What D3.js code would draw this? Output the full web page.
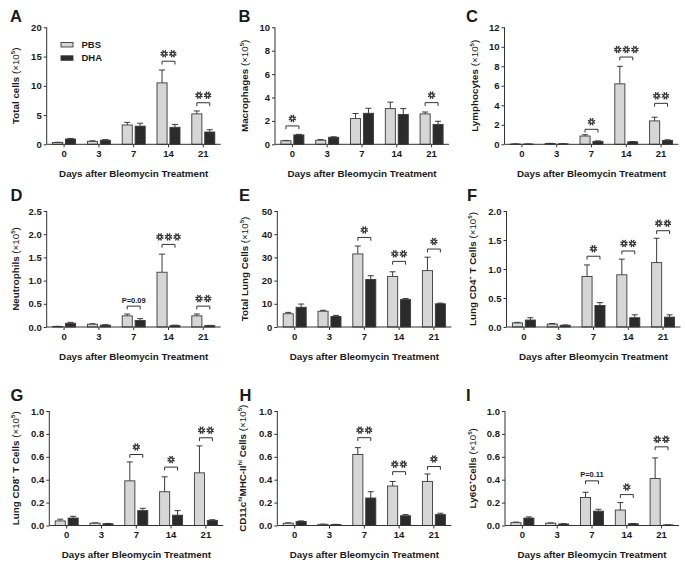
<!DOCTYPE html>
<html><head><meta charset="utf-8">
<script src="https://cdn.jsdelivr.net/npm/d3@7"></script>
<style>
body{margin:0;background:#fff}
svg text{font-family:"Liberation Sans",Arial,sans-serif;fill:#1a1a1a}
</style>
</head><body>
<svg id="c" width="685" height="562"></svg>
<script>
// ---------- DATA ----------
const days = ["0", "3", "7", "14", "21"];
const seriesNames = ["PBS", "DHA"];
const panelLetters = ["A","B","C","D","E","F","G","H","I"];

// A Total cells
const totalPBS = [0.3, 0.5, 3.3, 10.5, 5.2];
const totalPBSErr = [0.05, 0.1, 0.45, 2.2, 0.5];
const totalDHA = [0.9, 0.7, 3.1, 2.9, 2.1];
const totalDHAErr = [0.1, 0.1, 0.5, 0.5, 0.4];
// B Macrophages
const macroPBS = [0.3, 0.35, 2.2, 3.05, 2.6];
const macroPBSErr = [0.03, 0.05, 0.43, 0.55, 0.16];
const macroDHA = [0.8, 0.6, 2.65, 2.55, 1.7];
const macroDHAErr = [0.05, 0.04, 0.43, 0.5, 0.27];
// C Lymphocytes
const lymphPBS = [0.03, 0.08, 0.85, 6.2, 2.4];
const lymphPBSErr = [0.01, 0.02, 0.13, 1.8, 0.38];
const lymphDHA = [0.03, 0.05, 0.3, 0.25, 0.4];
const lymphDHAErr = [0.01, 0.01, 0.05, 0.04, 0.06];
// D Neutrophils
const neutPBS = [0.01, 0.06, 0.24, 1.18, 0.24];
const neutPBSErr = [0.005, 0.01, 0.04, 0.39, 0.04];
const neutDHA = [0.08, 0.04, 0.14, 0.03, 0.03];
const neutDHAErr = [0.02, 0.01, 0.04, 0.01, 0.005];
// E Total lung cells
const lungPBS = [5.7, 6.8, 31.5, 21.8, 24.3];
const lungPBSErr = [0.6, 0.4, 3.4, 2.0, 5.8];
const lungDHA = [8.5, 4.5, 20.5, 11.8, 10.0];
const lungDHAErr = [1.4, 0.5, 1.6, 0.5, 0.3];
// F CD4+
const cd4PBS = [0.07, 0.05, 0.87, 0.9, 1.11];
const cd4PBSErr = [0.01, 0.01, 0.2, 0.27, 0.42];
const cd4DHA = [0.12, 0.03, 0.37, 0.16, 0.17];
const cd4DHAErr = [0.04, 0.005, 0.05, 0.05, 0.04];
// G CD8+
const cd8PBS = [0.04, 0.02, 0.39, 0.295, 0.46];
const cd8PBSErr = [0.015, 0.003, 0.165, 0.13, 0.235];
const cd8DHA = [0.065, 0.015, 0.13, 0.09, 0.045];
const cd8DHAErr = [0.015, 0.003, 0.02, 0.04, 0.005];
// H CD11c hi MHC-II hi
const dcPBS = [0.02, 0.01, 0.62, 0.345, 0.385];
const dcPBSErr = [0.003, 0.002, 0.06, 0.04, 0.065];
const dcDHA = [0.035, 0.008, 0.24, 0.085, 0.095];
const dcDHAErr = [0.005, 0.002, 0.055, 0.01, 0.012];
// I Ly6G+
const ly6PBS = [0.025, 0.02, 0.245, 0.135, 0.41];
const ly6PBSErr = [0.005, 0.003, 0.045, 0.065, 0.18];
const ly6DHA = [0.065, 0.013, 0.125, 0.015, 0.005];
const ly6DHAErr = [0.01, 0.003, 0.017, 0.003, 0.001];

// y tick labels
const ticksA = [0, 5, 10, 15, 20];
const ticksB = [0, 2, 4, 6, 8, 10];
const ticksC = [0, 2, 4, 6, 8, 10, 12];
const ticksD = [0, 0.5, 1.0, 1.5, 2.0, 2.5];
const ticksE = [0, 10, 20, 30, 40, 50];
const ticksF = [0, 0.5, 1.0, 1.5, 2.0];
const ticksGHI = [0, 0.2, 0.4, 0.6, 0.8, 1.0];

// significance: [day index, bracket height (data units), label or number of stars]
const sigA = [[3, 14.2, 2], [4, 7.1, 2]];
const sigB = [[0, 1.57, 1], [4, 3.56, 1]];
const sigC = [[2, 1.54, 1], [3, 8.95, 3], [4, 4.2, 2]];
const sigD = [[2, 0.45, "P=0.09"], [3, 1.78, 3], [4, 0.45, 2]];
const sigE = [[2, 38.6, 1], [3, 28.3, 2], [4, 33.6, 1]];
const sigF = [[2, 1.22, 1], [3, 1.31, 2], [4, 1.66, 2]];
const sigG = [[2, 0.62, 1], [3, 0.51, 1], [4, 0.766, 2]];
const sigH = [[2, 0.767, 2], [3, 0.47, 2], [4, 0.515, 1]];
const sigI = [[2, 0.39, "P=0.11"], [3, 0.27, 1], [4, 0.687, 2]];

// y titles: [text, style] segments
const titleA = [["Total cells ", "b"], ["(×10", "n"], ["5", "sup"], [")", "n"]];
const titleB = [["Macrophages ", "b"], ["(×10", "n"], ["5", "sup"], [")", "n"]];
const titleC = [["Lymphocytes ", "b"], ["(×10", "n"], ["5", "sup"], [")", "n"]];
const titleD = [["Neutrophils ", "b"], ["(×10", "n"], ["5", "sup"], [")", "n"]];
const titleE = [["Total Lung Cells ", "b"], ["(×10", "n"], ["5", "sup"], [")", "n"]];
const titleF = [["Lung CD4", "b"], ["+", "sup"], [" T Cells ", "b"], ["(×10", "n"], ["5", "sup"], [")", "n"]];
const titleG = [["Lung CD8", "b"], ["+", "sup"], [" T Cells ", "b"], ["(×10", "n"], ["5", "sup"], [")", "n"]];
const titleH = [["CD11c", "b"], ["hi", "sup"], ["MHC-II", "b"], ["hi", "sup"], [" Cells ", "b"], ["(×10", "n"], ["5", "sup"], [")", "n"]];
const titleI = [["Ly6G", "b"], ["+", "sup"], ["Cells ", "b"], ["(×10", "n"], ["5", "sup"], [")", "n"]];

const xTitle = "Days after Bleomycin Treatment";

// ---------- LAYOUT ----------
const axisX = [46.7, 275, 504.5, 46.7, 277.3, 506.5, 49.3, 277.3, 505];
const rowTop = [27.3, 211, 411];
const rowBot = [144.3, 327, 525.5];
const titleX = [15, 244, 474.5, 15.5, 244.3, 472.5, 15.8, 242, 472];
const letterX = [10, 238.5, 466, 10.5, 239, 467, 10.5, 239.5, 466];
const letterY = [21.7, 201, 401];
const plotW = 174;

const panels = [
  {pbs: totalPBS, pe: totalPBSErr, dha: totalDHA, de: totalDHAErr, ticks: ticksA, dec: 0, sig: sigA, title: titleA},
  {pbs: macroPBS, pe: macroPBSErr, dha: macroDHA, de: macroDHAErr, ticks: ticksB, dec: 0, sig: sigB, title: titleB},
  {pbs: lymphPBS, pe: lymphPBSErr, dha: lymphDHA, de: lymphDHAErr, ticks: ticksC, dec: 0, sig: sigC, title: titleC},
  {pbs: neutPBS, pe: neutPBSErr, dha: neutDHA, de: neutDHAErr, ticks: ticksD, dec: 1, sig: sigD, title: titleD},
  {pbs: lungPBS, pe: lungPBSErr, dha: lungDHA, de: lungDHAErr, ticks: ticksE, dec: 0, sig: sigE, title: titleE},
  {pbs: cd4PBS, pe: cd4PBSErr, dha: cd4DHA, de: cd4DHAErr, ticks: ticksF, dec: 1, sig: sigF, title: titleF},
  {pbs: cd8PBS, pe: cd8PBSErr, dha: cd8DHA, de: cd8DHAErr, ticks: ticksGHI, dec: 1, sig: sigG, title: titleG},
  {pbs: dcPBS, pe: dcPBSErr, dha: dcDHA, de: dcDHAErr, ticks: ticksGHI, dec: 1, sig: sigH, title: titleH},
  {pbs: ly6PBS, pe: ly6PBSErr, dha: ly6DHA, de: ly6DHAErr, ticks: ticksGHI, dec: 1, sig: sigI, title: titleI}
];

const colors = {PBS: "#d6d6d6", DHA: "#2b2b2b"};
const stroke = "#3a3a3a";
const svg = d3.select("#c");

// gear-like asterisk glyph
function star(g, cx, cy) {
  const s = g.append("g").attr("transform", `translate(${cx},${cy})`);
  const spokes = d3.range(8).map(k => k * Math.PI / 4 + Math.PI / 8);
  s.selectAll("line").data(spokes).join("line")
    .attr("x1", 0).attr("y1", 0)
    .attr("x2", a => 3.3 * Math.cos(a)).attr("y2", a => 3.3 * Math.sin(a))
    .attr("stroke", "#333").attr("stroke-width", 1.4).attr("stroke-linecap", "round");
  s.append("circle").attr("r", 2.0).attr("fill", "#333");
  s.append("circle").attr("r", 1.0).attr("fill", "#fff");
}

panels.forEach((p, i) => {
  const row = Math.floor(i / 3);
  const x0 = axisX[i], yT = rowTop[row], yB = rowBot[row];
  const g = svg.append("g");

  const x = d3.scaleBand().domain(days).range([x0, x0 + plotW]).padding(0);
  const xs = d3.scaleBand().domain(seriesNames).range([-11.5, 11.5]).paddingInner(0.22);
  const y = d3.scaleLinear().domain([0, p.ticks[p.ticks.length - 1]]).range([yB, yT]);
  const fmt = p.dec ? d3.format(".1f") : d3.format("d");

  const rows = [];
  days.forEach((d, k) => {
    rows.push({day: d, s: "PBS", v: p.pbs[k], e: p.pe[k]});
    rows.push({day: d, s: "DHA", v: p.dha[k], e: p.de[k]});
  });
  const cx = d => x(d.day) + x.bandwidth() / 2 + xs(d.s) + xs.bandwidth() / 2;

  // error bars (upward only)
  g.selectAll(".eb").data(rows).join("path")
    .attr("d", d => {
      const c = cx(d), t = y(d.v + d.e), b = y(d.v);
      return `M${c},${b}V${t}M${c - 3},${t}H${c + 3}`;
    })
    .attr("stroke", stroke).attr("stroke-width", 1).attr("fill", "none");

  g.selectAll(".bar").data(rows).join("rect")
    .attr("x", d => cx(d) - xs.bandwidth() / 2)
    .attr("width", xs.bandwidth())
    .attr("y", d => y(d.v))
    .attr("height", d => Math.max(0.5, yB - y(d.v)))
    .attr("fill", d => colors[d.s])
    .attr("stroke", stroke).attr("stroke-width", 0.9);

  // y axis
  const ya = d3.axisLeft(y).tickValues(p.ticks).tickFormat(fmt).tickSize(3).tickPadding(2);
  const yg = g.append("g").attr("transform", `translate(${x0},0)`).call(ya);
  yg.select(".domain").attr("stroke", "#333").attr("d", `M0,${yB}V${yT}`);
  yg.selectAll(".tick line").attr("stroke", "#333");
  yg.selectAll(".tick text").attr("font-size", 9.5).attr("font-weight", "bold")
    .attr("font-family", "Liberation Sans, Arial, sans-serif").attr("fill", "#1a1a1a");

  // x axis
  const xa = d3.axisBottom(x).tickSize(3).tickPadding(3);
  const xg = g.append("g").attr("transform", `translate(0,${yB})`).call(xa);
  xg.select(".domain").attr("stroke", "#333").attr("d", `M${x0},0H${x0 + plotW}`);
  xg.selectAll(".tick line").attr("stroke", "#333");
  xg.selectAll(".tick text").attr("font-size", 9.5).attr("font-weight", "bold")
    .attr("font-family", "Liberation Sans, Arial, sans-serif").attr("fill", "#1a1a1a");

  // x title
  g.append("text").attr("x", x0 + plotW / 2).attr("y", yB + 32.5)
    .attr("text-anchor", "middle").attr("font-size", 9.8).attr("font-weight", "bold")
    .text(xTitle);

  // y title
  const yt = g.append("text")
    .attr("transform", `translate(${titleX[i] + 3.5},${(yT + yB) / 2}) rotate(-90)`)
    .attr("text-anchor", "middle").attr("font-size", 9.8);
  let supped = false;
  p.title.forEach(([t, st]) => {
    const ts = yt.append("tspan").text(t);
    if (st === "sup") {
      ts.attr("font-size", 6).attr("dy", -4).attr("font-weight", "bold");
      supped = true;
    } else {
      ts.attr("font-weight", st === "b" ? "bold" : "normal");
      if (supped) { ts.attr("dy", 4); supped = false; }
    }
  });

  // panel letter
  g.append("text").attr("x", letterX[i]).attr("y", letterY[row])
    .attr("font-size", 16.5).attr("font-weight", "bold").text(panelLetters[i]);

  // significance brackets
  p.sig.forEach(([k, h, lab]) => {
    const c = x(days[k]) + x.bandwidth() / 2;
    const l = c + xs("PBS") + xs.bandwidth() / 2, r = c + xs("DHA") + xs.bandwidth() / 2;
    const by = y(h);
    g.append("path").attr("d", `M${l},${by + 3.3}V${by}H${r}V${by + 3.3}`)
      .attr("stroke", "#333").attr("stroke-width", 1).attr("fill", "none");
    if (typeof lab === "string") {
      g.append("text").attr("x", (l + r) / 2).attr("y", by - 3.5).attr("text-anchor", "middle")
        .attr("font-size", 7.5).attr("font-weight", "bold").text(lab);
    } else {
      const sp = 8.6;
      for (let q = 0; q < lab; q++) {
        star(g, (l + r) / 2 + (q - (lab - 1) / 2) * sp, by - 7.5);
      }
    }
  });

  // legend in panel A
  if (i === 0) {
    seriesNames.forEach((s, j) => {
      const ly = 42.5 + j * 13.3;
      g.append("rect").attr("x", 61).attr("y", ly).attr("width", 12).attr("height", 4.5)
        .attr("fill", colors[s]).attr("stroke", stroke).attr("stroke-width", 0.9);
      g.append("text").attr("x", 81.5).attr("y", ly + 5.5).attr("font-size", 9.5)
        .attr("font-weight", "bold").text(s);
    });
  }
});
</script>
</body></html>
